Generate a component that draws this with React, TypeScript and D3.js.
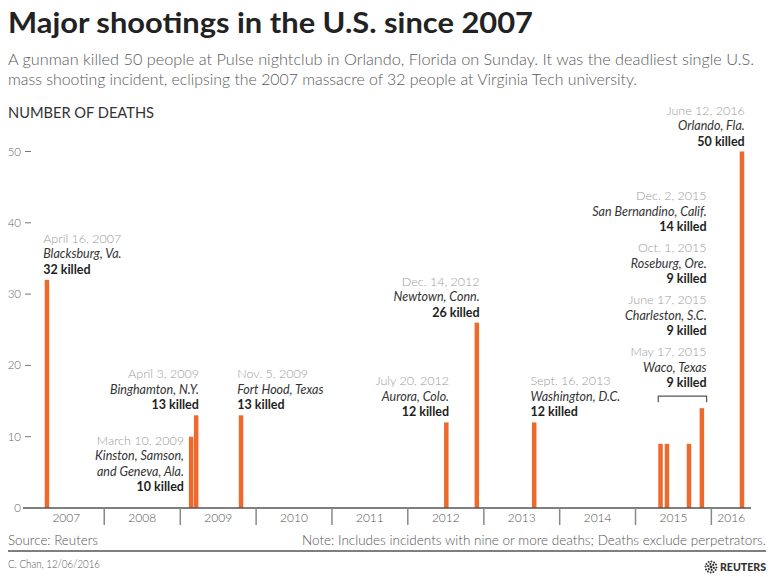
import React from "react";
import * as d3 from "d3";

// ---------- data ----------
const eventDates = [
  "2007-04-16", "2009-03-10", "2009-04-03", "2009-11-05", "2012-07-20", "2012-12-14",
  "2013-09-16", "2015-05-17", "2015-06-17", "2015-10-01", "2015-12-02", "2016-06-12",
];
const deaths = [32, 10, 13, 13, 12, 26, 12, 9, 9, 9, 14, 50];
const dateLabels = [
  "April 16, 2007", "March 10, 2009", "April 3, 2009", "Nov. 5, 2009", "July 20, 2012", "Dec. 14, 2012",
  "Sept. 16, 2013", "May 17, 2015", "June 17, 2015", "Oct. 1, 2015", "Dec. 2, 2015", "June 12, 2016",
];
const placeLabels = [
  ["Blacksburg, Va."], ["Kinston, Samson,", "and Geneva, Ala."], ["Binghamton, N.Y."], ["Fort Hood, Texas"],
  ["Aurora, Colo."], ["Newtown, Conn."], ["Washington, D.C."], ["Waco, Texas"], ["Charleston, S.C."],
  ["Roseburg, Ore."], ["San Bernandino, Calif."], ["Orlando, Fla."],
];
const yearLabels = ["2007", "2008", "2009", "2010", "2011", "2012", "2013", "2014", "2015", "2016"];
const yTicks = [0, 10, 20, 30, 40, 50];

// annotation layout (not data): how each label sits relative to its bar
const annotLayout: { kind: string; anchor?: string }[] = [
  { kind: "above", anchor: "start" },
  { kind: "left" },
  { kind: "above", anchor: "end" },
  { kind: "above", anchor: "start" },
  { kind: "above", anchor: "end" },
  { kind: "above", anchor: "end" },
  { kind: "above", anchor: "start" },
  { kind: "group" }, { kind: "group" }, { kind: "group" }, { kind: "group" },
  { kind: "above", anchor: "end" },
];

const W = 770, H = 577;
const FONT = "Lato, 'Open Sans', sans-serif";
const ORANGE = "#ee6a2c";
const LH = 15.5;
const BAR_W = 4.5;

const parse = d3.timeParse("%Y-%m-%d");

export default function App() {
  const x = d3.scaleTime()
    .domain([new Date(2007, 0, 1), new Date(2017, 0, 1)])
    .range([28.4, 787.4]);
  const y = d3.scaleLinear().domain([0, 50]).range([508, 151.5]);
  const axisEnd = 751;

  const bars = eventDates.map((d, i) => {
    const xd = x(parse(d) as Date);
    return { i, left: xd - BAR_W - 1, right: xd - 1, top: y(deaths[i]), v: deaths[i] };
  });

  const yearStarts = yearLabels.map((yr) => x(new Date(+yr, 0, 1)));
  const yearCenters = yearLabels.map((yr, i) => {
    const a = yearStarts[i];
    const b = i < yearLabels.length - 1 ? yearStarts[i + 1] : axisEnd;
    return (a + b) / 2;
  });

  const block = (i: number, tx: number, lastBaseline: number, anchor: string) => {
    const lines: { t: string; cls: string }[] = [
      { t: dateLabels[i], cls: "date" },
      ...placeLabels[i].map((p) => ({ t: p, cls: "place" })),
      { t: `${deaths[i]} killed`, cls: "killed" },
    ];
    const n = lines.length;
    return (
      <g key={`a${i}`}>
        {lines.map((l, k) => (
          <text
            key={k}
            x={tx}
            y={lastBaseline - (n - 1 - k) * LH}
            textAnchor={anchor as any}
            fontFamily={FONT}
            fontSize={12.5}
            fontStyle={l.cls === "place" ? "italic" : "normal"}
            fontWeight={l.cls === "killed" ? 700 : l.cls === "date" ? 300 : 400}
            fill={l.cls === "date" ? "#9a9a9a" : l.cls === "place" ? "#333" : "#1e1e1e"}
          >
            {l.t}
          </text>
        ))}
      </g>
    );
  };

  const annotations: any[] = [];
  const groupIdx: number[] = [];
  annotLayout.forEach((L, i) => {
    const b = bars[i];
    if (L.kind === "above") {
      const tx = L.anchor === "start" ? b.left - 1.5 : b.right + 0.5;
      annotations.push(block(i, tx, b.top - 6, L.anchor!));
    } else if (L.kind === "left") {
      const n = placeLabels[i].length + 2;
      annotations.push(block(i, b.left - 5, b.top + 8 + (n - 1) * LH, "end"));
    } else if (L.kind === "group") {
      groupIdx.push(i);
    }
  });

  let bracket: any = null;
  if (groupIdx.length) {
    const gb = groupIdx.map((i) => bars[i]);
    const gl = d3.min(gb, (b) => b.left)!;
    const gr = d3.max(gb, (b) => b.right)! + 2.5;
    const gTop = d3.min(gb, (b) => b.top)!;
    const by = gTop - 12;
    bracket = (
      <path
        d={`M${gl},${by + 6}V${by}H${gr}V${by + 6}`}
        fill="none"
        stroke="#555"
        strokeWidth={1.2}
      />
    );
    // stack blocks upward: earliest at bottom
    let last = by - 9;
    groupIdx.forEach((i) => {
      const n = placeLabels[i].length + 2;
      annotations.push(block(i, gr, last, "end"));
      last -= (n - 1) * LH + 21;
    });
  }

  // Reuters logo dots
  const logoDots: { cx: number; cy: number; r: number }[] = [];
  const lcx = 711, lcy = 567;
  [0, 3, 5.5].forEach((rr, ri) => {
    const count = ri === 0 ? 1 : ri === 1 ? 6 : 12;
    d3.range(count).forEach((k) => {
      const a = (k / count) * Math.PI * 2 + ri * 0.3;
      logoDots.push({ cx: lcx + rr * Math.cos(a), cy: lcy + rr * Math.sin(a), r: ri === 0 ? 1.4 : ri === 1 ? 1.1 : 1.0 });
    });
  });

  return (
    <svg
      width={W}
      height={H}
      viewBox={`0 0 ${W} ${H}`}
      style={{ position: "absolute", left: 0, top: 0, background: "#fff" }}
    >
      <rect width={W} height={H} fill="#fff" />
      {/* Title & subtitle */}
      <text x={8} y={33} fontFamily={FONT} fontWeight={700} fontSize={28} fill="#222"
        textLength={525} lengthAdjust="spacingAndGlyphs">
        Major shootings in the U.S. since 2007
      </text>
      <text x={8} y={65} fontFamily={FONT} fontWeight={300} fontSize={15.5} fill="#5a5a5a"
        textLength={746} lengthAdjust="spacingAndGlyphs">
        A gunman killed 50 people at Pulse nightclub in Orlando, Florida on Sunday. It was the deadliest single U.S.
      </text>
      <text x={8} y={85} fontFamily={FONT} fontWeight={300} fontSize={15.5} fill="#5a5a5a"
        textLength={629} lengthAdjust="spacingAndGlyphs">
        mass shooting incident, eclipsing the 2007 massacre of 32 people at Virginia Tech university.
      </text>
      <text x={8} y={118} fontFamily={FONT} fontWeight={400} fontSize={14.5} fill="#333"
        textLength={146} lengthAdjust="spacingAndGlyphs">
        NUMBER OF DEATHS
      </text>

      {/* Y axis */}
      {yTicks.map((t) => (
        <g key={t}>
          <text x={21} y={y(t) + 4} textAnchor="end" fontFamily={FONT} fontWeight={300} fontSize={11.5} fill="#666">
            {t}
          </text>
          {t !== 0 && <line x1={25} x2={31} y1={y(t)} y2={y(t)} stroke="#777" strokeWidth={1} />}
        </g>
      ))}

      {/* Bars */}
      {bars.map((b) => (
        <rect key={b.i} x={b.left} y={b.top} width={BAR_W} height={y(0) - b.top} fill={ORANGE} />
      ))}

      {/* X axis */}
      <line x1={23} x2={axisEnd} y1={y(0)} y2={y(0)} stroke="#555" strokeWidth={1.5} />
      {yearStarts.slice(1).map((sx, i) => (
        <line key={i} x1={sx} x2={sx} y1={y(0)} y2={525} stroke="#888" strokeWidth={1.5} />
      ))}
      {yearLabels.map((yr, i) => (
        <text key={yr} x={yearCenters[i]} y={522} textAnchor="middle" fontFamily={FONT} fontWeight={300}
          fontSize={12} fill="#555">
          {yr}
        </text>
      ))}

      {/* Annotations */}
      {bracket}
      {annotations}

      {/* Footer */}
      <text x={8} y={545} fontFamily={FONT} fontWeight={300} fontSize={13} fill="#555"
        textLength={90} lengthAdjust="spacingAndGlyphs">
        Source: Reuters
      </text>
      <text x={766} y={545} textAnchor="end" fontFamily={FONT} fontWeight={300} fontSize={13} fill="#555"
        textLength={464} lengthAdjust="spacingAndGlyphs">
        Note: Includes incidents with nine or more deaths; Deaths exclude perpetrators.
      </text>
      <line x1={8} x2={766} y1={551} y2={551} stroke="#555" strokeWidth={1.5} />
      <text x={8} y={568} fontFamily={FONT} fontWeight={300} fontSize={12.5} fill="#555"
        textLength={92} lengthAdjust="spacingAndGlyphs">
        C. Chan, 12/06/2016
      </text>
      {logoDots.map((d, k) => (
        <circle key={k} cx={d.cx} cy={d.cy} r={d.r} fill="#333" />
      ))}
      <text x={720} y={571} fontFamily={FONT} fontWeight={900} fontSize={10.5} fill="#333"
        textLength={46} lengthAdjust="spacingAndGlyphs">
        REUTERS
      </text>
    </svg>
  );
}
